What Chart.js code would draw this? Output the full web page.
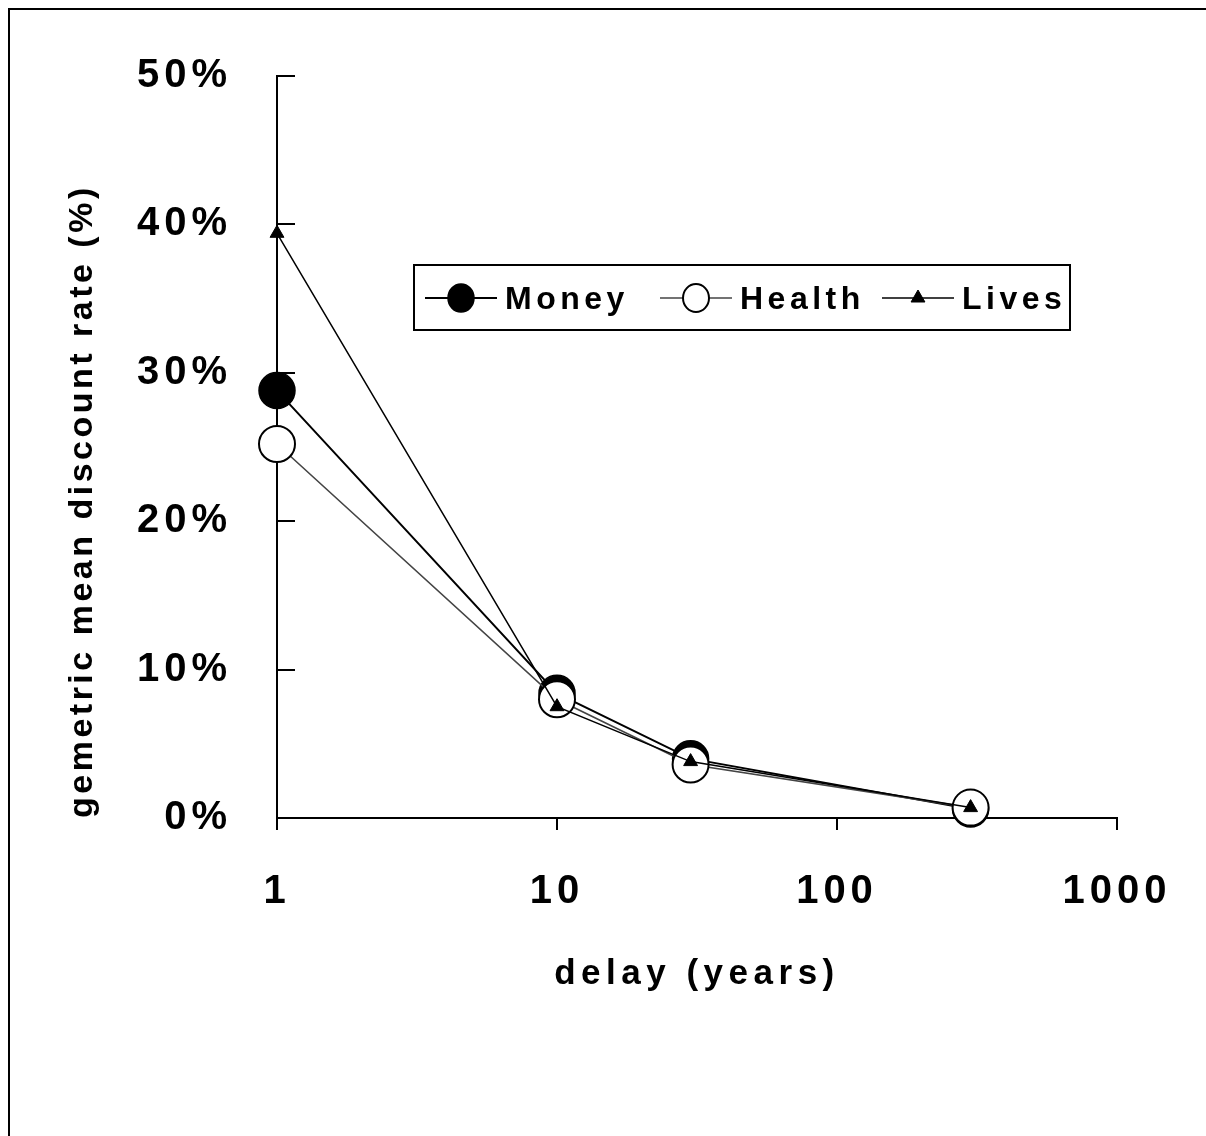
<!DOCTYPE html>
<html>
<head>
<meta charset="utf-8">
<script src="https://cdn.jsdelivr.net/npm/chart.js@4.4.0/dist/chart.umd.min.js"></script>
<style>
  html, body { margin: 0; padding: 0; background: #fff; }
  canvas { display: block; }
</style>
</head>
<body>
<canvas id="c" width="1206" height="1136"></canvas>
<script>
// delay in years (log axis) and geometric mean discount rate in percent
const delays = [1, 10, 30, 300];
const money  = [28.8, 8.4, 4.0, 0.6];
const health = [25.2, 8.0, 3.6, 0.7];
const lives  = [39.4, 7.5, 3.8, 0.7];
const xTicks = [1, 10, 100, 1000];
const yTicks = [0, 10, 20, 30, 40, 50];
const seriesNames = ['Money', 'Health', 'Lives'];
const xTitle = 'delay (years)';
const yTitle = 'gemetric mean discount rate (%)';

const FAMILY = "'Liberation Sans', Arial, Helvetica, sans-serif";
const TICK_PX = 40, XTITLE_PX = 35, YTITLE_PX = 34, LEGEND_PX = 32;

const canvas = document.getElementById('c');
const ctx = canvas.getContext('2d');

// spaced lettering: each font size gets its own tracking
const spacingByPx = { 40: '5px', 35: '5.5px', 34: '3.5px', 32: '4.5px' };
const fontDesc = Object.getOwnPropertyDescriptor(CanvasRenderingContext2D.prototype, 'font');
Object.defineProperty(ctx, 'font', {
  configurable: true,
  get() { return fontDesc.get.call(this); },
  set(v) {
    fontDesc.set.call(this, v);
    const m = /(\d+(?:\.\d+)?)px/.exec(v);
    this.letterSpacing = (m && spacingByPx[Math.round(+m[1])]) || '0px';
  }
});

const toPoints = ys => delays.map((x, i) => ({ x, y: ys[i] }));

const datasets = [
  {
    label: seriesNames[0], data: toPoints(money), order: 3,
    borderColor: '#000', borderWidth: 2,
    pointStyle: 'circle', pointRadius: 18, pointHoverRadius: 18,
    pointBackgroundColor: '#000', pointBorderColor: '#000', pointBorderWidth: 1.5
  },
  {
    label: seriesNames[1], data: toPoints(health), order: 2,
    borderColor: '#444', borderWidth: 1.6,
    pointStyle: 'circle', pointRadius: 18, pointHoverRadius: 18,
    pointBackgroundColor: '#fff', pointBorderColor: '#000', pointBorderWidth: 2
  },
  {
    label: seriesNames[2], data: toPoints(lives), order: 1,
    borderColor: '#000', borderWidth: 1.5,
    pointStyle: 'triangle', pointRadius: 8, pointHoverRadius: 8,
    pointBackgroundColor: '#000', pointBorderColor: '#000', pointBorderWidth: 1
  }
];

// outer frame of the figure
const framePlugin = {
  id: 'frame',
  beforeDraw(chart) {
    const c = chart.ctx;
    c.save();
    c.strokeStyle = '#000';
    c.lineWidth = 2;
    c.strokeRect(9, 9, 1400, 1400);
    c.restore();
  }
};

// boxed legend with line-through markers
const boxLegend = {
  id: 'boxLegend',
  afterDraw(chart) {
    const c = chart.ctx;
    const box = { x: 414, y: 265, w: 656, h: 65 };
    const itemX = [425, 660, 882];
    c.save();
    c.fillStyle = '#fff';
    c.fillRect(box.x, box.y, box.w, box.h);
    c.strokeStyle = '#000';
    c.lineWidth = 2;
    c.strokeRect(box.x, box.y, box.w, box.h);

    const cy = 298;
    const lineLen = 72;
    chart.data.datasets.forEach((ds, i) => {
      const x = itemX[i];
      c.strokeStyle = ds.borderColor;
      c.lineWidth = ds.borderWidth;
      c.beginPath();
      c.moveTo(x, cy);
      c.lineTo(x + lineLen, cy);
      c.stroke();

      const mx = x + lineLen / 2;
      c.fillStyle = ds.pointBackgroundColor;
      c.strokeStyle = ds.pointBorderColor;
      c.lineWidth = ds.pointBorderWidth;
      c.beginPath();
      if (ds.pointStyle === 'triangle') {
        const r = 8;
        c.moveTo(mx, cy - r);
        c.lineTo(mx + r * 0.866, cy + r * 0.5);
        c.lineTo(mx - r * 0.866, cy + r * 0.5);
        c.closePath();
      } else {
        c.ellipse(mx, cy, 13, 14, 0, 0, Math.PI * 2);
      }
      c.fill();
      c.stroke();

      c.font = `bold ${LEGEND_PX}px ${FAMILY}`;
      c.fillStyle = '#000';
      c.textAlign = 'left';
      c.textBaseline = 'middle';
      c.fillText(ds.label, x + lineLen + 8, cy + 2);
    });
    c.restore();
  }
};

new Chart(ctx, {
  type: 'line',
  data: { datasets },
  plugins: [framePlugin, boxLegend],
  options: {
    responsive: false,
    animation: false,
    devicePixelRatio: 1,
    clip: false,
    layout: { padding: { left: 0, top: 76, right: 89, bottom: 141 } },
    elements: { line: { tension: 0 } },
    plugins: { legend: { display: false }, tooltip: { enabled: false } },
    scales: {
      x: {
        type: 'logarithmic',
        position: 'bottom',
        min: 1, max: 1000,
        afterBuildTicks: s => { s.ticks = xTicks.map(v => ({ value: v })); },
        afterFit: s => { s.height = 177; s.paddingLeft = 0; s.paddingRight = 0; },
        ticks: {
          autoSkip: false, maxRotation: 0, minRotation: 0,
          color: '#000', padding: 38,
          font: { family: FAMILY, size: TICK_PX, weight: 'bold' },
          callback: v => String(v)
        },
        grid: { drawOnChartArea: false, drawTicks: true, tickLength: 12, color: '#000', lineWidth: 2 },
        border: { display: true, color: '#000', width: 2 },
        title: {
          display: true, text: xTitle, color: '#000',
          font: { family: FAMILY, size: XTITLE_PX, weight: 'bold' },
          padding: { top: 0, bottom: 0 }
        }
      },
      y: {
        type: 'linear',
        position: 'left',
        min: 0, max: 50,
        afterBuildTicks: s => { s.ticks = yTicks.map(v => ({ value: v })); },
        afterFit: s => { s.width = 277; s.paddingTop = 0; s.paddingBottom = 0; },
        ticks: {
          color: '#000', padding: 63,
          font: { family: FAMILY, size: TICK_PX, weight: 'bold' },
          callback: v => v + '%'
        },
        grid: { drawOnChartArea: false, drawTicks: true, tickLength: -18, color: '#000', lineWidth: 2 },
        border: { display: true, color: '#000', width: 2 },
        title: {
          display: true, text: yTitle, color: '#000', align: 'start',
          font: { family: FAMILY, size: YTITLE_PX, weight: 'bold' },
          padding: { top: 62, bottom: 0 }
        }
      }
    }
  }
});
</script>
</body>
</html>
